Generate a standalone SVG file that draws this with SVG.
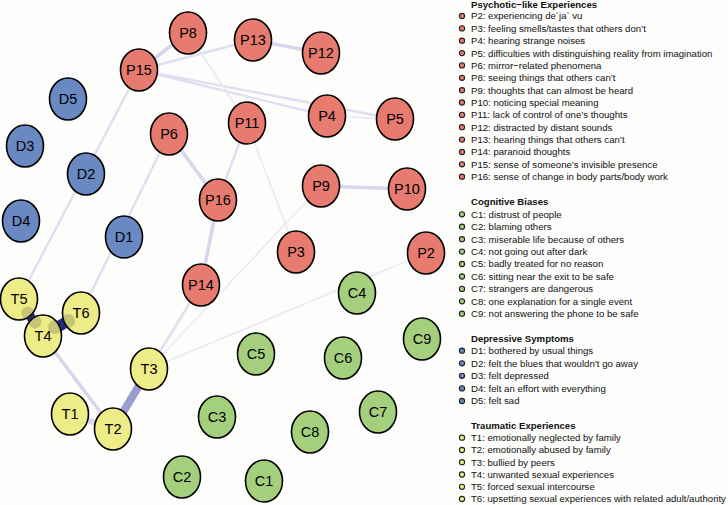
<svg xmlns="http://www.w3.org/2000/svg" width="728" height="505" viewBox="0 0 728 505">
<style>
.bg{fill:#fdfdfb}
.n ellipse{stroke:#000;stroke-width:1.6}
.n text{font-family:"Liberation Sans",Arial,sans-serif;font-size:14.5px;text-anchor:middle;fill:#000}
.P ellipse{fill:#e87b70}
.D ellipse{fill:#6a88c2}
.C ellipse{fill:#a4cf7c}
.T ellipse{fill:#eeec87}
.e{fill:none;stroke-linecap:butt}
.e1{stroke:#e9e9f5;stroke-width:1.6}
.e2{stroke:#dfdff1;stroke-width:2.4}
.e3{stroke:#d6d6ed;stroke-width:3.6}
.e4{stroke:#9b9cd2;stroke-width:8}
.e5{stroke:#1f2b8c;stroke-width:9}
.blob{fill:#3a3a3a;opacity:0.22}
.lg text{font-family:"Liberation Sans",Arial,sans-serif;font-size:9.6px;fill:#111}
.lg text.h{font-weight:bold}
.lg circle{stroke:#222;stroke-width:1.1}
</style>
<rect class="bg" width="728" height="505"/>
<g id="edges">
<line class="e e3" x1="188" y1="33" x2="139" y2="70"/>
<line class="e e2" x1="139" y1="70" x2="253" y2="40"/>
<line class="e e3" x1="253" y1="40" x2="321" y2="53"/>
<line class="e e2" x1="139" y1="70" x2="327" y2="116"/>
<line class="e e2" x1="139" y1="70" x2="395" y2="119"/>
<line class="e e1" x1="327" y1="116" x2="395" y2="119"/>
<line class="e e1" x1="188" y1="33" x2="247" y2="123"/>
<line class="e e3" x1="169" y1="134" x2="218" y2="200"/>
<line class="e e2" x1="247" y1="123" x2="218" y2="200"/>
<line class="e e1" x1="247" y1="123" x2="296" y2="252"/>
<line class="e e2" x1="139" y1="70" x2="19" y2="299"/>
<line class="e e2" x1="169" y1="134" x2="81" y2="313"/>
<line class="e e3" x1="218" y1="200" x2="201" y2="285"/>
<line class="e e2" x1="201" y1="285" x2="149" y2="369"/>
<line class="e e1" x1="321" y1="186" x2="149" y2="369"/>
<line class="e e1" x1="149" y1="369" x2="426" y2="253"/>
<line class="e e3" x1="321" y1="186" x2="407" y2="189"/>
<line class="e e3" x1="43" y1="336" x2="113" y2="429"/>
<line class="e e3" x1="70" y1="414" x2="113" y2="429" style="stroke-width:6"/>
<line class="e e4" x1="113" y1="429" x2="149" y2="369"/>
<line class="e e5" x1="19" y1="299" x2="43" y2="336"/>
<line class="e e5" x1="43" y1="336" x2="81" y2="313" style="stroke-width:11"/>
</g>
<g id="P8" class="n P"><ellipse cx="188" cy="33" rx="18.5" ry="21"/><text x="188" y="38">P8</text></g>
<g id="P15" class="n P"><ellipse cx="139" cy="70" rx="18.5" ry="21"/><text x="139" y="75">P15</text></g>
<g id="P13" class="n P"><ellipse cx="253" cy="40" rx="18.5" ry="21"/><text x="253" y="45">P13</text></g>
<g id="P12" class="n P"><ellipse cx="321" cy="53" rx="18.5" ry="21"/><text x="321" y="58">P12</text></g>
<g id="P4" class="n P"><ellipse cx="327" cy="116" rx="18.5" ry="21"/><text x="327" y="121">P4</text></g>
<g id="P5" class="n P"><ellipse cx="395" cy="119" rx="18.5" ry="21"/><text x="395" y="124">P5</text></g>
<g id="P6" class="n P"><ellipse cx="169" cy="134" rx="18.5" ry="21"/><text x="169" y="139">P6</text></g>
<g id="P11" class="n P"><ellipse cx="247" cy="123" rx="18.5" ry="21"/><text x="247" y="128">P11</text></g>
<g id="P16" class="n P"><ellipse cx="218" cy="200" rx="18.5" ry="21"/><text x="218" y="205">P16</text></g>
<g id="P9" class="n P"><ellipse cx="321" cy="186" rx="18.5" ry="21"/><text x="321" y="191">P9</text></g>
<g id="P10" class="n P"><ellipse cx="407" cy="189" rx="18.5" ry="21"/><text x="407" y="194">P10</text></g>
<g id="P3" class="n P"><ellipse cx="296" cy="252" rx="18.5" ry="21"/><text x="296" y="257">P3</text></g>
<g id="P2" class="n P"><ellipse cx="426" cy="253" rx="18.5" ry="21"/><text x="426" y="258">P2</text></g>
<g id="P14" class="n P"><ellipse cx="201" cy="285" rx="18.5" ry="21"/><text x="201" y="290">P14</text></g>
<g id="D5" class="n D"><ellipse cx="68" cy="99" rx="18.5" ry="21"/><text x="68" y="104">D5</text></g>
<g id="D3" class="n D"><ellipse cx="25" cy="146" rx="18.5" ry="21"/><text x="25" y="151">D3</text></g>
<g id="D2" class="n D"><ellipse cx="86" cy="174" rx="18.5" ry="21"/><text x="86" y="179">D2</text></g>
<g id="D4" class="n D"><ellipse cx="21" cy="221" rx="18.5" ry="21"/><text x="21" y="226">D4</text></g>
<g id="D1" class="n D"><ellipse cx="124" cy="237" rx="18.5" ry="21"/><text x="124" y="242">D1</text></g>
<g id="C4" class="n C"><ellipse cx="357" cy="293" rx="18.5" ry="21"/><text x="357" y="298">C4</text></g>
<g id="C5" class="n C"><ellipse cx="256" cy="354" rx="18.5" ry="21"/><text x="256" y="359">C5</text></g>
<g id="C6" class="n C"><ellipse cx="343" cy="358" rx="18.5" ry="21"/><text x="343" y="363">C6</text></g>
<g id="C9" class="n C"><ellipse cx="422" cy="339" rx="18.5" ry="21"/><text x="422" y="344">C9</text></g>
<g id="C7" class="n C"><ellipse cx="378" cy="412" rx="18.5" ry="21"/><text x="378" y="417">C7</text></g>
<g id="C8" class="n C"><ellipse cx="310" cy="432" rx="18.5" ry="21"/><text x="310" y="437">C8</text></g>
<g id="C3" class="n C"><ellipse cx="217" cy="417" rx="18.5" ry="21"/><text x="217" y="422">C3</text></g>
<g id="C2" class="n C"><ellipse cx="182" cy="477" rx="18.5" ry="21"/><text x="182" y="482">C2</text></g>
<g id="C1" class="n C"><ellipse cx="264" cy="481" rx="18.5" ry="21"/><text x="264" y="486">C1</text></g>
<g id="T5" class="n T"><ellipse cx="19" cy="299" rx="18.5" ry="21"/><text x="19" y="304">T5</text></g>
<g id="T6" class="n T"><ellipse cx="81" cy="313" rx="18.5" ry="21"/><text x="81" y="318">T6</text></g>
<g id="T4" class="n T"><ellipse cx="43" cy="336" rx="18.5" ry="21"/><text x="43" y="341">T4</text></g>
<g id="T3" class="n T"><ellipse cx="149" cy="369" rx="18.5" ry="21"/><text x="149" y="374">T3</text></g>
<g id="T1" class="n T"><ellipse cx="70" cy="414" rx="18.5" ry="21"/><text x="70" y="419">T1</text></g>
<g id="T2" class="n T"><ellipse cx="113" cy="429" rx="18.5" ry="21"/><text x="113" y="434">T2</text></g>
<g id="edge-ends">
<circle class="blob" cx="28" cy="313" r="6.5"/>
<circle class="blob" cx="35" cy="322" r="6.5"/>
<circle class="blob" cx="55" cy="327" r="7"/>
<circle class="blob" cx="68" cy="321" r="7"/>
</g>
<g id="legend" class="lg">
<text class="h" x="471" y="8.1">Psychotic−like Experiences</text>
<g class="P">
<circle cx="462" cy="16" r="2.6" fill="#e87b70"/><text x="471" y="19.4">P2: experiencing de´ja` vu</text>
<circle cx="462" cy="28.4" r="2.6" fill="#e87b70"/><text x="471" y="31.8">P3: feeling smells/tastes that others don’t</text>
<circle cx="462" cy="40.7" r="2.6" fill="#e87b70"/><text x="471" y="44.1">P4: hearing strange noises</text>
<circle cx="462" cy="53.1" r="2.6" fill="#e87b70"/><text x="471" y="56.5">P5: difficulties with distinguishing reality from imagination</text>
<circle cx="462" cy="65.4" r="2.6" fill="#e87b70"/><text x="471" y="68.8">P6: mirror−related phenomena</text>
<circle cx="462" cy="77.8" r="2.6" fill="#e87b70"/><text x="471" y="81.2">P8: seeing things that others can’t</text>
<circle cx="462" cy="90.2" r="2.6" fill="#e87b70"/><text x="471" y="93.6">P9: thoughts that can almost be heard</text>
<circle cx="462" cy="102.5" r="2.6" fill="#e87b70"/><text x="471" y="105.9">P10: noticing special meaning</text>
<circle cx="462" cy="114.9" r="2.6" fill="#e87b70"/><text x="471" y="118.3">P11: lack of control of one’s thoughts</text>
<circle cx="462" cy="127.2" r="2.6" fill="#e87b70"/><text x="471" y="130.6">P12: distracted by distant sounds</text>
<circle cx="462" cy="139.6" r="2.6" fill="#e87b70"/><text x="471" y="143">P13: hearing things that others can’t</text>
<circle cx="462" cy="152" r="2.6" fill="#e87b70"/><text x="471" y="155.4">P14: paranoid thoughts</text>
<circle cx="462" cy="164.3" r="2.6" fill="#e87b70"/><text x="471" y="167.7">P15: sense of someone’s invisible presence</text>
<circle cx="462" cy="176.7" r="2.6" fill="#e87b70"/><text x="471" y="180.1">P16: sense of change in body parts/body work</text>
</g>
<text class="h" x="471" y="205.4">Cognitive Biases</text>
<g>
<circle cx="462" cy="214.3" r="2.6" fill="#a4cf7c"/><text x="471" y="217.7">C1: distrust of people</text>
<circle cx="462" cy="226.7" r="2.6" fill="#a4cf7c"/><text x="471" y="230.1">C2: blaming others</text>
<circle cx="462" cy="239.2" r="2.6" fill="#a4cf7c"/><text x="471" y="242.6">C3: miserable life because of others</text>
<circle cx="462" cy="251.6" r="2.6" fill="#a4cf7c"/><text x="471" y="255">C4: not going out after dark</text>
<circle cx="462" cy="264" r="2.6" fill="#a4cf7c"/><text x="471" y="267.4">C5: badly treated for no reason</text>
<circle cx="462" cy="276.5" r="2.6" fill="#a4cf7c"/><text x="471" y="279.9">C6: sitting near the exit to be safe</text>
<circle cx="462" cy="288.9" r="2.6" fill="#a4cf7c"/><text x="471" y="292.3">C7: strangers are dangerous</text>
<circle cx="462" cy="301.3" r="2.6" fill="#a4cf7c"/><text x="471" y="304.7">C8: one explanation for a single event</text>
<circle cx="462" cy="313.7" r="2.6" fill="#a4cf7c"/><text x="471" y="317.1">C9: not answering the phone to be safe</text>
</g>
<text class="h" x="471" y="341.7">Depressive Symptoms</text>
<g>
<circle cx="462" cy="350.7" r="2.6" fill="#6a88c2"/><text x="471" y="354.1">D1: bothered by usual things</text>
<circle cx="462" cy="363.3" r="2.6" fill="#6a88c2"/><text x="471" y="366.7">D2: felt the blues that wouldn’t go away</text>
<circle cx="462" cy="375.8" r="2.6" fill="#6a88c2"/><text x="471" y="379.2">D3: felt depressed</text>
<circle cx="462" cy="388.4" r="2.6" fill="#6a88c2"/><text x="471" y="391.8">D4: felt an effort with everything</text>
<circle cx="462" cy="401" r="2.6" fill="#6a88c2"/><text x="471" y="404.4">D5: felt sad</text>
</g>
<text class="h" x="471" y="428.7">Traumatic Experiences</text>
<g>
<circle cx="462" cy="437.7" r="2.6" fill="#eeec87"/><text x="471" y="441.1">T1: emotionally neglected by family</text>
<circle cx="462" cy="450" r="2.6" fill="#eeec87"/><text x="471" y="453.4">T2: emotionally abused by family</text>
<circle cx="462" cy="462.2" r="2.6" fill="#eeec87"/><text x="471" y="465.6">T3: bullied by peers</text>
<circle cx="462" cy="474.5" r="2.6" fill="#eeec87"/><text x="471" y="477.9">T4: unwanted sexual experiences</text>
<circle cx="462" cy="486.8" r="2.6" fill="#eeec87"/><text x="471" y="490.2">T5: forced sexual intercourse</text>
<circle cx="462" cy="499" r="2.6" fill="#eeec87"/><text x="471" y="502.4">T6: upsetting sexual experiences with related adult/authority</text>
</g>
</g>
</svg>
